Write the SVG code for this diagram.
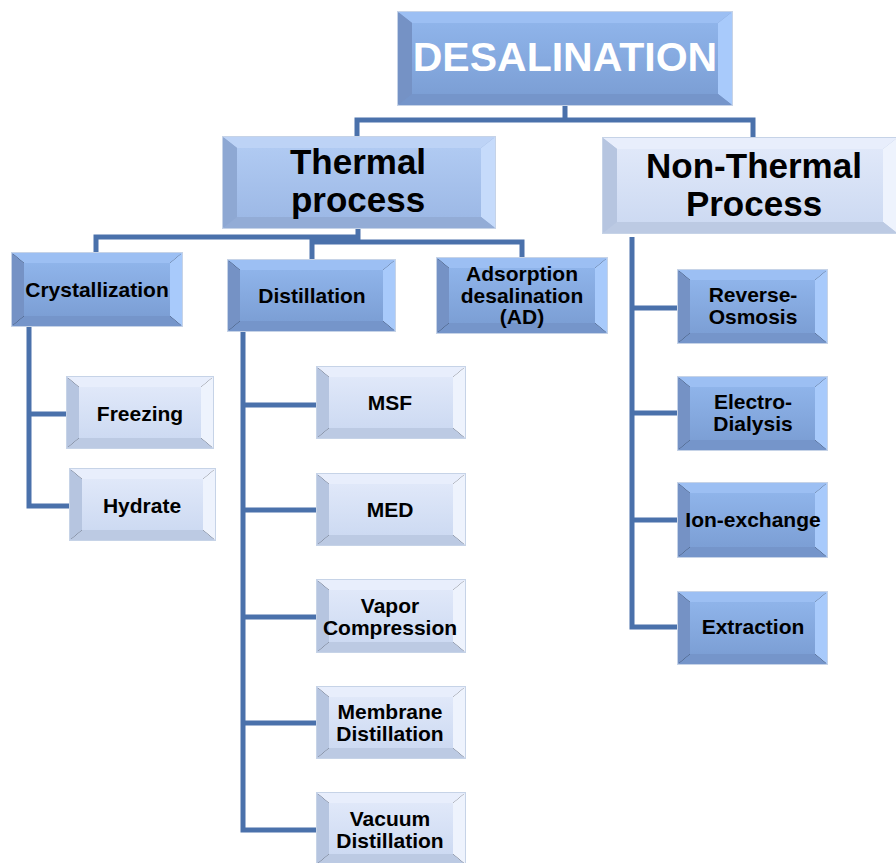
<svg xmlns="http://www.w3.org/2000/svg" width="896" height="863" viewBox="0 0 896 863">
<defs>
<linearGradient id="gm" x1="0" y1="0" x2="0" y2="1"><stop offset="0" stop-color="#8fb4ea"/><stop offset="1" stop-color="#7c9fd5"/></linearGradient>
<linearGradient id="gl" x1="0" y1="0" x2="0" y2="1"><stop offset="0" stop-color="#e0e8f9"/><stop offset="1" stop-color="#cddaf2"/></linearGradient>
<linearGradient id="gt" x1="0" y1="0" x2="0" y2="1"><stop offset="0" stop-color="#b0caf2"/><stop offset="1" stop-color="#9db9e6"/></linearGradient>
</defs>
<style>
.box .O{stroke:#c6d3e7;stroke-width:2}
.m .T{fill:#9cbff3}.m .L{fill:#7592c5}.m .R{fill:#a8cafb}.m .B{fill:#7595ca}.m .F{fill:url(#gm)}
.l .T{fill:#e8eefc}.l .L{fill:#b6c5e0}.l .R{fill:#eef3fd}.l .B{fill:#bccae3}.l .F{fill:url(#gl)}
.t .T{fill:#bdd3f6}.t .L{fill:#8ea8d3}.t .R{fill:#c6dbfb}.t .B{fill:#93acd6}.t .F{fill:url(#gt)}
text{font-family:"Liberation Sans",Arial,sans-serif;font-weight:bold;text-anchor:middle;fill:#000}
.s{font-size:21px}
.big{font-size:35px}
.cn{fill:none;stroke:#4a71ab;stroke-width:5}
</style>
<g id="connectors" class="cn">
<path d="M357,137 V120 H753 V138 M565,105 V120"/>
<path d="M358,228 V242 M96,255 V237 H358 M312,260 V242 H522 V258"/>
<path d="M29,326 V506 H70 M29,414 H67"/>
<path d="M243,331 V830 H317 M243,405 H317 M243,510 H317 M243,617 H317 M243,723 H317"/>
<path d="M632,237 V627 H678 M632,308 H678 M632,413 H678 M632,520 H678"/>
</g>
<g id="desalination" class="box m">
<rect class="O" x="398" y="12" width="334" height="93" fill="#7592c5"/>
<polygon class="T" points="398,12 732,12 718,23 412,23"/><polygon class="L" points="398,12 412,23 412,94 398,105"/><polygon class="R" points="732,12 732,105 718,94 718,23"/><polygon class="B" points="398,105 732,105 718,94 412,94"/><rect class="F" x="412" y="23" width="306" height="71"/>
<text x="565" y="71" style="font-size:41px;fill:#fff">DESALINATION</text>
</g>
<g id="thermal" class="box t">
<rect class="O" x="223" y="137" width="272" height="91" fill="#8ea8d3"/>
<polygon class="T" points="223,137 495,137 481,148 237,148"/><polygon class="L" points="223,137 237,148 237,217 223,228"/><polygon class="R" points="495,137 495,228 481,217 481,148"/><polygon class="B" points="223,228 495,228 481,217 237,217"/><rect class="F" x="237" y="148" width="244" height="69"/>
<text class="big" x="358" y="174">Thermal</text><text class="big" x="358" y="212">process</text>
</g>
<g id="nonthermal" class="box l">
<rect class="O" x="603" y="138" width="294" height="95" fill="#b6c5e0"/>
<polygon class="T" points="603,138 897,138 883,149 617,149"/><polygon class="L" points="603,138 617,149 617,222 603,233"/><polygon class="R" points="897,138 897,233 883,222 883,149"/><polygon class="B" points="603,233 897,233 883,222 617,222"/><rect class="F" x="617" y="149" width="266" height="73"/>
<text class="big" x="754" y="178">Non-Thermal</text><text class="big" x="754" y="216">Process</text>
</g>
<g id="crystallization" class="box m">
<rect class="O" x="12" y="253" width="170" height="73"/>
<polygon class="T" points="12,253 182,253 170,263 24,263"/><polygon class="L" points="12,253 24,263 24,316 12,326"/><polygon class="R" points="182,253 182,326 170,316 170,263"/><polygon class="B" points="12,326 182,326 170,316 24,316"/><rect class="F" x="24" y="263" width="146" height="53"/>
<text class="s" x="97" y="297">Crystallization</text>
</g>
<g id="distillation" class="box m">
<rect class="O" x="228" y="260" width="167" height="71"/>
<polygon class="T" points="228,260 395,260 383,270 240,270"/><polygon class="L" points="228,260 240,270 240,321 228,331"/><polygon class="R" points="395,260 395,331 383,321 383,270"/><polygon class="B" points="228,331 395,331 383,321 240,321"/><rect class="F" x="240" y="270" width="143" height="51"/>
<text class="s" x="312" y="303">Distillation</text>
</g>
<g id="adsorption" class="box m">
<rect class="O" x="437" y="258" width="170" height="75"/>
<polygon class="T" points="437,258 607,258 595,268 449,268"/><polygon class="L" points="437,258 449,268 449,323 437,333"/><polygon class="R" points="607,258 607,333 595,323 595,268"/><polygon class="B" points="437,333 607,333 595,323 449,323"/><rect class="F" x="449" y="268" width="146" height="55"/>
<text class="s" x="522" y="281">Adsorption</text><text class="s" x="522" y="303">desalination</text><text class="s" x="522" y="324">(AD)</text>
</g>
<g id="freezing" class="box l">
<rect class="O" x="67" y="377" width="146" height="71"/>
<polygon class="T" points="67,377 213,377 201,387 79,387"/><polygon class="L" points="67,377 79,387 79,438 67,448"/><polygon class="R" points="213,377 213,448 201,438 201,387"/><polygon class="B" points="67,448 213,448 201,438 79,438"/><rect class="F" x="79" y="387" width="122" height="51"/>
<text class="s" x="140" y="421">Freezing</text>
</g>
<g id="hydrate" class="box l">
<rect class="O" x="70" y="469" width="145" height="71"/>
<polygon class="T" points="70,469 215,469 203,479 82,479"/><polygon class="L" points="70,469 82,479 82,530 70,540"/><polygon class="R" points="215,469 215,540 203,530 203,479"/><polygon class="B" points="70,540 215,540 203,530 82,530"/><rect class="F" x="82" y="479" width="121" height="51"/>
<text class="s" x="142" y="513">Hydrate</text>
</g>
<g id="msf" class="box l">
<rect class="O" x="317" y="367" width="148" height="71"/>
<polygon class="T" points="317,367 465,367 453,377 329,377"/><polygon class="L" points="317,367 329,377 329,428 317,438"/><polygon class="R" points="465,367 465,438 453,428 453,377"/><polygon class="B" points="317,438 465,438 453,428 329,428"/><rect class="F" x="329" y="377" width="124" height="51"/>
<text class="s" x="390" y="410">MSF</text>
</g>
<g id="med" class="box l">
<rect class="O" x="317" y="474" width="148" height="71"/>
<polygon class="T" points="317,474 465,474 453,484 329,484"/><polygon class="L" points="317,474 329,484 329,535 317,545"/><polygon class="R" points="465,474 465,545 453,535 453,484"/><polygon class="B" points="317,545 465,545 453,535 329,535"/><rect class="F" x="329" y="484" width="124" height="51"/>
<text class="s" x="390" y="517">MED</text>
</g>
<g id="vapor" class="box l">
<rect class="O" x="317" y="580" width="148" height="72"/>
<polygon class="T" points="317,580 465,580 453,590 329,590"/><polygon class="L" points="317,580 329,590 329,642 317,652"/><polygon class="R" points="465,580 465,652 453,642 453,590"/><polygon class="B" points="317,652 465,652 453,642 329,642"/><rect class="F" x="329" y="590" width="124" height="52"/>
<text class="s" x="390" y="613">Vapor</text><text class="s" x="390" y="635">Compression</text>
</g>
<g id="membrane" class="box l">
<rect class="O" x="317" y="687" width="148" height="71"/>
<polygon class="T" points="317,687 465,687 453,697 329,697"/><polygon class="L" points="317,687 329,697 329,748 317,758"/><polygon class="R" points="465,687 465,758 453,748 453,697"/><polygon class="B" points="317,758 465,758 453,748 329,748"/><rect class="F" x="329" y="697" width="124" height="51"/>
<text class="s" x="390" y="719">Membrane</text><text class="s" x="390" y="741">Distillation</text>
</g>
<g id="vacuum" class="box l">
<rect class="O" x="317" y="793" width="148" height="71"/>
<polygon class="T" points="317,793 465,793 453,803 329,803"/><polygon class="L" points="317,793 329,803 329,854 317,864"/><polygon class="R" points="465,793 465,864 453,854 453,803"/><polygon class="B" points="317,864 465,864 453,854 329,854"/><rect class="F" x="329" y="803" width="124" height="51"/>
<text class="s" x="390" y="826">Vacuum</text><text class="s" x="390" y="848">Distillation</text>
</g>
<g id="reverse" class="box m">
<rect class="O" x="678" y="270" width="149" height="73"/>
<polygon class="T" points="678,270 827,270 815,280 690,280"/><polygon class="L" points="678,270 690,280 690,333 678,343"/><polygon class="R" points="827,270 827,343 815,333 815,280"/><polygon class="B" points="678,343 827,343 815,333 690,333"/><rect class="F" x="690" y="280" width="125" height="53"/>
<text class="s" x="753" y="302">Reverse-</text><text class="s" x="753" y="324">Osmosis</text>
</g>
<g id="electro" class="box m">
<rect class="O" x="678" y="377" width="149" height="73"/>
<polygon class="T" points="678,377 827,377 815,387 690,387"/><polygon class="L" points="678,377 690,387 690,440 678,450"/><polygon class="R" points="827,377 827,450 815,440 815,387"/><polygon class="B" points="678,450 827,450 815,440 690,440"/><rect class="F" x="690" y="387" width="125" height="53"/>
<text class="s" x="753" y="409">Electro-</text><text class="s" x="753" y="431">Dialysis</text>
</g>
<g id="ion" class="box m">
<rect class="O" x="678" y="483" width="149" height="74"/>
<polygon class="T" points="678,483 827,483 815,493 690,493"/><polygon class="L" points="678,483 690,493 690,547 678,557"/><polygon class="R" points="827,483 827,557 815,547 815,493"/><polygon class="B" points="678,557 827,557 815,547 690,547"/><rect class="F" x="690" y="493" width="125" height="54"/>
<text class="s" x="753" y="527">Ion-exchange</text>
</g>
<g id="extraction" class="box m">
<rect class="O" x="678" y="592" width="149" height="72"/>
<polygon class="T" points="678,592 827,592 815,602 690,602"/><polygon class="L" points="678,592 690,602 690,654 678,664"/><polygon class="R" points="827,592 827,664 815,654 815,602"/><polygon class="B" points="678,664 827,664 815,654 690,654"/><rect class="F" x="690" y="602" width="125" height="52"/>
<text class="s" x="753" y="634">Extraction</text>
</g>
</svg>
